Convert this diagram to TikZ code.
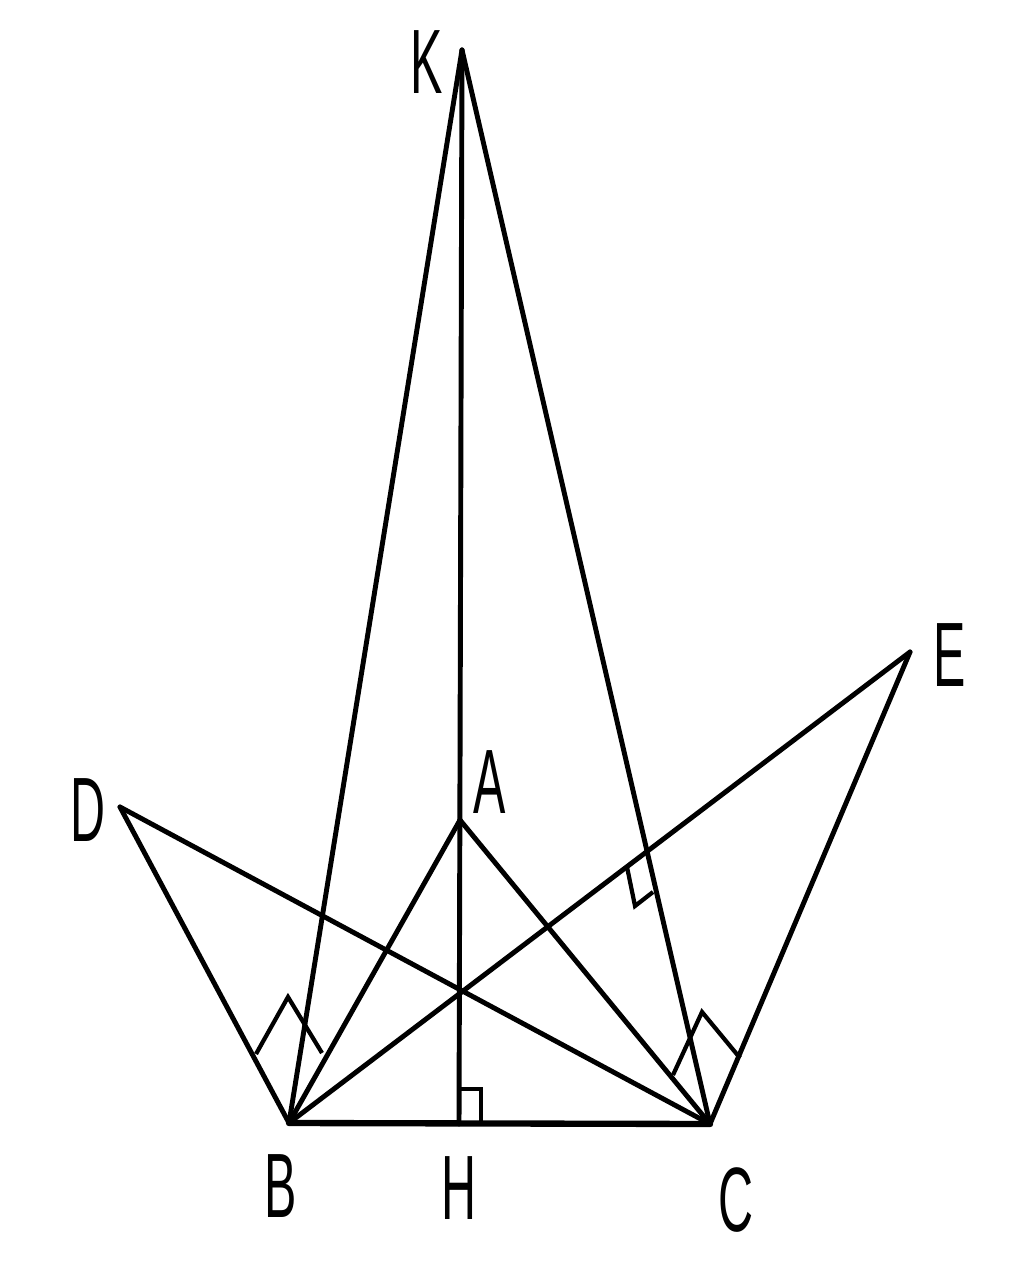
\documentclass[tikz,border=0pt]{standalone}
\usepackage{fontspec}
\setmainfont{Liberation Sans}
\begin{document}
\begin{tikzpicture}[x=0.01cm,y=-0.01cm,
  seg/.style={line width=1.4pt, line join=round, line cap=round},
  ramark/.style={line width=1.2pt, line join=miter},
  lbl/.style={inner sep=0pt, font=\fontsize{26}{26}\selectfont}]
\useasboundingbox (0,0) rectangle (1024,1280);
\coordinate (K) at (462,50);
\coordinate (A) at (460,820);
\coordinate (B) at (289,1123);
\coordinate (C) at (710,1124);
\coordinate (H) at (459,1124);
\coordinate (D) at (120,807);
\coordinate (E) at (910,652);
% segments
\draw[seg] (K) -- (B);
\draw[seg] (K) -- (C);
\draw[seg] (K) -- (H);
\draw[seg] (A) -- (B);
\draw[seg] (A) -- (C);
\draw[seg] (D) -- (B);
\draw[seg] (D) -- (C);
\draw[seg] (E) -- (B);
\draw[seg] (E) -- (C);
\draw[seg, line width=1.8pt] (B) -- (C);
% right-angle marks
\draw[ramark] (256,1054) -- (288,997) -- (322,1053);
\draw[ramark] (673,1075) -- (702,1012) -- (740,1058);
\draw[ramark] (627,867) -- (635,906) -- (653,892);
\draw[ramark] (459,1089) -- (481,1089) -- (481,1124);
% labels
\node[lbl] (lK) at (427,62) {\scalebox{0.53}[1]{K}};
\node[lbl] (lA) at (490,782) {\scalebox{0.53}[1]{A}};
\node[lbl] (lD) at (88,810) {\scalebox{0.53}[1]{D}};
\node[lbl] (lE) at (950,655) {\scalebox{0.53}[1]{E}};
\node[lbl] (lB) at (281,1186) {\scalebox{0.53}[1]{B}};
\node[lbl] (lH) at (459,1188) {\scalebox{0.53}[1]{H}};
\node[lbl] (lC) at (736,1200) {\scalebox{0.53}[1]{C}};
\end{tikzpicture}
\end{document}
